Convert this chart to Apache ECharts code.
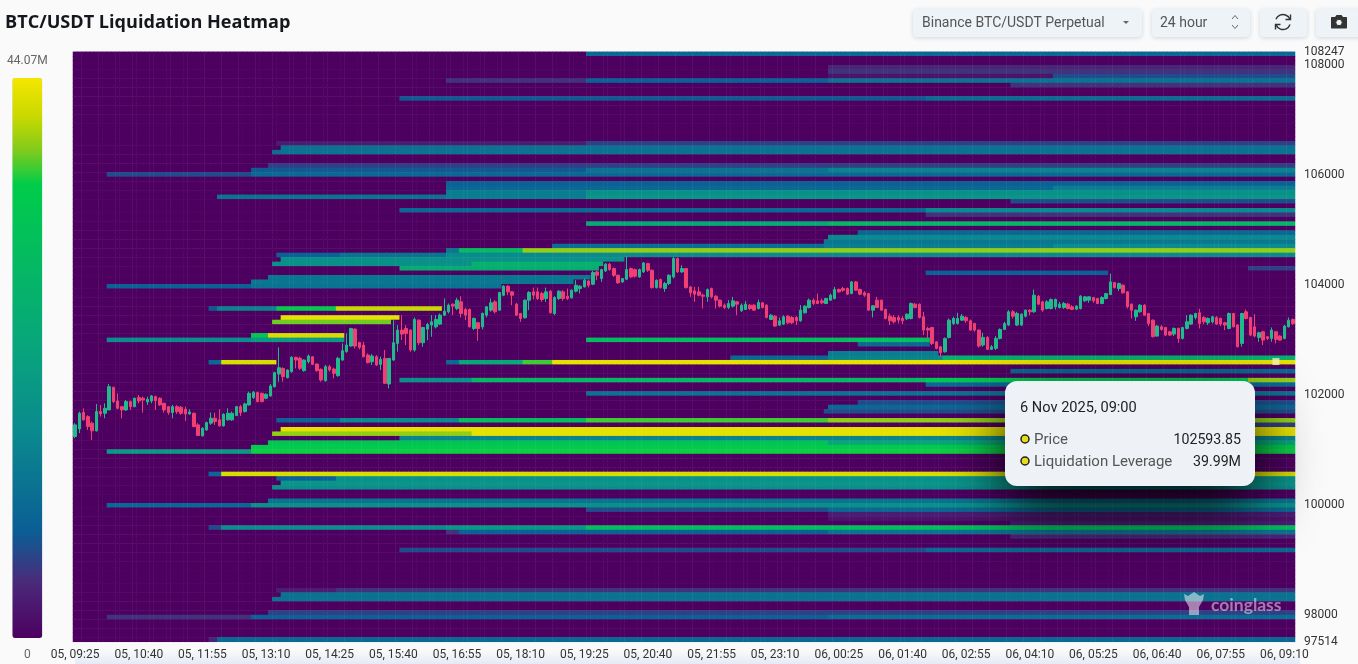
<!DOCTYPE html>
<html><head><meta charset="utf-8">
<style>html,body{margin:0;padding:0;background:#fafafa;overflow:hidden}
#strip{position:absolute;left:75px;top:650px;width:1225px;height:14px;background:linear-gradient(#fafafa,#e4ebf6)}
#c{position:absolute;left:0;top:0;width:1358px;height:664px}</style>
<script src="https://cdn.jsdelivr.net/npm/echarts@6/dist/echarts.min.js"></script>
</head><body><div id="strip"></div><div id="c"></div>
<script>
const priceMin = 97514, priceMax = 108247, binCount = 132, candleCount = 288;
const priceTicks = [97514, 98000, 100000, 102000, 104000, 106000, 108000, 108247];
const legendMaxM = 44.07;
const colorStops = [[0,'#4d0060'],[0.1,'#4a2a7a'],[0.19,'#0b5e95'],[0.37,'#0a8a8e'],[0.52,'#08a57c'],[0.81,'#00cc4a'],[0.87,'#80cb1c'],[0.93,'#c8d800'],[1,'#f5e600']];
const tipTime = '6 Nov 2025, 09:00', tipPrice = 102593.85, tipLeverage = '39.99M', tipCandle = 283;

// [price bin counted from the top, first candle, end candle, liquidation leverage in millions]
const bandsTop = [
[0,121,288,10],[3,178,288,4],[4,178,288,5],[5,178,231,2],[5,231,288,7],[6,88,121,5],[6,121,178,9],[6,178,288,12],[7,221,288,5],
[10,77,201,8],[10,201,288,11],[20,48,121,3],[20,121,288,6],[21,49,288,12],[22,47,49,11],[22,49,288,12],[25,46,288,6],
[26,42,121,8],[26,121,178,12],[26,178,288,15],[27,8,42,7],[27,42,288,10],[29,88,288,9],[30,88,231,10],[30,231,288,14],
[31,88,121,14],[31,121,288,18],[32,34,88,12],[32,88,121,14],[32,121,288,19],[33,221,288,7],
[35,77,201,10],[35,201,288,16],[36,201,288,5],[38,121,178,24],[38,178,288,28]];
const bandsUpperMid = [
[40,185,288,10],[41,178,288,16],[42,177,288,13],[43,113,177,11],[43,177,231,14],[43,231,288,17],
[44,88,91,13],[44,91,106,30],[44,106,288,39],[45,48,63,9],[45,63,88,12],[45,88,288,16],
[46,49,130,18],[47,47,94,18],[47,94,125,27],[48,77,124,25],[48,277,288,6],[49,201,244,9],
[50,46,122,13],[51,42,118,13],[52,8,42,9],[52,42,101,12],
[57,32,34,8],[57,34,48,15],[57,48,62,35],[57,62,87,41],[59,49,77,43],[60,47,75,38],
[63,42,46,34],[63,46,64,42],[64,8,42,17],[64,42,64,20],[64,121,185,30],[64,185,202,32],[65,185,202,10],
[67,178,204,14],[68,155,178,10],[68,178,205,15],[68,205,288,26]];
const bandsLowerMid = [
[69,32,35,10],[69,35,48,42],[69,88,91,10],[69,91,106,24],[69,106,113,37],[69,113,288,43],
[71,221,288,10],[73,77,94,18],[73,94,201,29],[73,201,277,34],[73,277,288,39],[74,201,288,10],[76,121,288,12],
[78,185,288,7],[79,178,288,10],[80,177,288,7],
[82,48,63,9],[82,63,91,16],[82,91,121,31],[82,121,178,37],[82,178,288,39],[83,221,288,6],
[84,49,288,43],[85,47,94,39],[85,94,288,43],[86,77,288,15],[87,46,178,33],[87,178,288,24],
[88,42,288,35],[89,8,42,20],[89,42,288,36]];
const bandsBottom = [
[94,32,35,10],[94,35,288,42],[95,48,62,9],[95,62,288,18],[96,49,288,19],[97,47,288,17],
[100,46,288,12],[101,8,42,10],[101,42,288,18],[102,121,178,7],[102,178,288,10],[103,178,288,3],[104,178,288,2],[105,221,288,3],
[106,32,35,7],[106,35,88,17],[106,88,121,20],[106,121,288,31],[107,88,91,5],[107,91,178,9],[107,178,288,12],[108,221,288,4],
[111,77,201,7],[111,201,288,10],[120,48,62,3],[120,62,288,5],[121,49,288,12],[122,47,288,12],[125,46,288,6],
[126,8,42,5],[126,42,178,9],[126,178,288,11],[131,32,34,4],[131,34,288,10]];

// [open, close, low, high], read candle by candle
const candlesA = [
[101230,101442,101200,101472],[101369,101653,101291,101684],[101666,101533,101520,101744],[101593,101411,101351,101617],[101472,101333,101169,101502],[101333,101684,101321,101823],[101684,101641,101593,101805],[101653,101744,101563,101835],
[101714,102137,101714,102186],[102125,101865,101835,102137],[101877,101744,101726,102016],[101774,101714,101563,101787],[101714,101865,101696,101895],[101865,101774,101714,101883],[101774,101926,101762,101938],[101938,101877,101835,101986],
[101926,101895,101666,101956],[101859,101908,101805,101956],[101877,101968,101835,101986],[101956,101883,101714,101974],[101926,101805,101787,101944],[101835,101714,101666,101847],[101774,101666,101623,101787],[101666,101774,101563,101805],
[101774,101684,101641,101799],[101762,101653,101623,101787],[101726,101641,101514,101774],[101641,101678,101623,101726],[101653,101411,101399,101666],[101442,101248,101242,101472],[101242,101381,101230,101399],[101351,101484,101333,101502],
[101472,101563,101442,101666],[101563,101502,101442,101666],[101533,101424,101411,101726],[101424,101635,101411,101653],[101533,101653,101520,101744],[101533,101653,101514,101684],[101611,101774,101605,101787],[101774,101666,101605,101805],
[101684,101823,101666,101847],[101805,102016,101793,102047],[101938,102035,101914,102059],[102029,101865,101853,102047],[102016,101865,101853,102029],[101926,101998,101908,102016],[101968,102150,101956,102186],[102137,102392,102119,102410],
[102367,102482,102228,102851],[102470,102319,102228,102488],[102301,102440,102289,102452],[102410,102670,102392,102694],[102670,102621,102470,102682],[102652,102470,102440,102682],[102428,102621,102410,102634],[102591,102694,102561,102724],
[102682,102543,102531,102694],[102549,102428,102410,102561],[102452,102258,102228,102470],[102246,102500,102228,102531],[102500,102440,102410,102531],[102458,102379,102289,102482],[102337,102652,102319,102682],[102621,102791,102609,102924],
[102773,102894,102755,103105],[102876,103196,102863,103208],[103184,102876,102833,103196],[102942,102851,102815,102954],[102894,102682,102670,102954],[102712,102573,102561,102742],[102591,102694,102531,102730],[102682,102531,102513,102712]];
const candlesB = [
[102543,102634,102440,102682],[102652,102198,102186,102803],[102186,102652,102107,102652],[102621,102936,102609,103347],[102924,103166,102773,103257],[103166,103093,102984,103438],[103196,103105,102894,103257],[103166,102803,102773,103178],
[102803,103360,102773,103396],[103347,102936,102894,103360],[102936,103214,102863,103226],[103184,103269,102984,103299],[103257,103317,103045,103438],[103226,103360,103196,103438],[103275,103438,103257,103468],[103438,103511,103420,103741],
[103499,103620,103468,103650],[103638,103602,103438,103650],[103559,103711,103529,103753],[103680,103468,103396,103783],[103541,103438,103347,103571],[103541,103226,103214,103559],[103196,103378,103166,103396],[103299,103196,102972,103317],
[103226,103468,103178,103487],[103438,103589,103396,103602],[103529,103662,103499,103741],[103680,103499,103468,103711],[103529,103850,103517,103862],[103801,103965,103783,103983],[103965,103862,103801,103983],[103862,103801,103620,103874],
[103638,103438,103420,103662],[103468,103378,103317,103480],[103390,103711,103378,103723],[103711,103850,103529,103874],[103862,103801,103723,103940],[103862,103741,103711,103940],[103831,103723,103680,103862],[103741,103862,103680,103940],
[103874,103480,103468,103892],[103468,103759,103438,103783],[103741,103874,103711,103892],[103862,103741,103698,103892],[103783,103741,103711,103922],[103753,103892,103741,103904],[103874,103983,103850,104074],[103922,103965,103831,103983],
[103952,104074,103940,104104],[104061,103983,103940,104074],[104001,104213,103983,104243],[104225,104164,104074,104243],[104104,104267,104043,104285],[104243,104364,104225,104388],[104364,104267,104243,104388],[104285,104164,104134,104303],
[104164,104025,104013,104176],[104043,104104,104025,104116],[104092,104267,104074,104509],[104285,104134,104116,104303],[104267,104146,104122,104285],[104134,104267,104116,104285],[104225,104388,104207,104406],[104376,104255,104225,104388],
[104255,103940,103922,104267],[103940,104074,103922,104086],[104086,103940,103922,104104],[103922,104013,103862,104043],[104013,104164,103983,104182],[104134,104467,104104,104497],[104467,104225,104207,104485],[104225,104285,104207,104346]];
const candlesC = [
[104285,103940,103922,104297],[103952,103844,103771,103965],[103880,103820,103680,103952],[103862,103801,103783,103952],[103801,103783,103559,103831],[103771,103904,103680,103922],[103922,103771,103741,103940],[103783,103711,103559,103801],
[103711,103602,103577,103723],[103620,103577,103547,103650],[103577,103650,103547,103711],[103602,103698,103577,103771],[103680,103638,103438,103698],[103517,103620,103499,103650],[103541,103638,103529,103698],[103620,103559,103529,103638],
[103620,103529,103517,103638],[103559,103668,103541,103723],[103662,103577,103559,103680],[103620,103396,103378,103638],[103360,103438,103347,103456],[103420,103239,103226,103438],[103257,103335,103239,103396],[103275,103408,103257,103438],
[103420,103299,103275,103438],[103396,103299,103275,103420],[103396,103335,103257,103420],[103335,103529,103317,103620],[103480,103602,103468,103620],[103577,103711,103559,103741],[103711,103650,103620,103741],[103698,103650,103638,103831],
[103698,103662,103638,103741],[103650,103741,103638,103753],[103711,103801,103698,103831],[103741,103904,103723,103952],[103904,103862,103844,103922],[103922,103892,103862,103952],[103922,103820,103801,103940],[103831,104043,103820,104061],
[104043,103892,103880,104061],[103904,103820,103801,103922],[103844,103801,103771,103874],[103831,103529,103517,103844],[103529,103608,103396,103620],[103711,103577,103577,103771],[103711,103529,103517,103723],[103541,103378,103360,103559],
[103420,103335,103257,103468],[103396,103317,103287,103438],[103396,103347,103287,103438],[103378,103335,103275,103420],[103372,103456,103347,103468],[103378,103650,103360,103668],[103638,103577,103559,103662],[103638,103396,103378,103650],
[103408,103166,103075,103499],[103196,103166,103015,103226],[103214,102924,102894,103226],[102954,102833,102815,102966],[102863,102755,102682,102875],[102773,103015,102755,103033],[103033,103347,103015,103378],[103287,103378,103257,103408],
[103287,103378,103269,103480],[103347,103420,103335,103456],[103396,103335,103299,103420],[103335,103166,103154,103360],[103287,103166,103136,103299],[103166,102876,102851,103178],[102894,103033,102863,103118],[103033,102815,102803,103057]];
const candlesD = [
[102815,102863,102803,102894],[102833,103015,102803,103057],[103015,103178,102997,103196],[103178,103287,103166,103317],[103257,103499,103239,103529],[103499,103420,103378,103529],[103257,103468,103239,103499],[103257,103456,103239,103468],
[103420,103529,103396,103541],[103529,103499,103438,103547],[103499,103801,103480,103904],[103783,103638,103620,103801],[103680,103529,103499,103698],[103559,103680,103541,103711],[103559,103723,103541,103741],[103589,103723,103541,103741],
[103577,103638,103559,103680],[103577,103650,103553,103680],[103638,103559,103541,103662],[103589,103541,103529,103620],[103547,103602,103529,103620],[103559,103783,103541,103801],[103698,103771,103680,103783],[103711,103771,103662,103783],
[103759,103698,103662,103771],[103741,103650,103638,103753],[103650,103759,103638,103783],[103741,103831,103723,103844],[103813,104043,103801,104194],[104031,103940,103922,104043],[103922,104013,103880,104031],[103983,103844,103831,104001],
[103862,103589,103559,103874],[103638,103529,103378,103650],[103408,103529,103335,103541],[103499,103620,103480,103638],[103620,103438,103420,103638],[103468,103287,103239,103480],[103347,103045,103033,103360],[103057,103239,103045,103257],
[103226,103178,103154,103257],[103214,103075,103057,103226],[103136,103075,103057,103154],[103093,103196,103057,103214],[103196,103015,102936,103214],[103015,103214,102997,103226],[103196,103317,103178,103438],[103275,103438,103257,103456],
[103396,103468,103360,103480],[103480,103287,103196,103553],[103396,103317,103275,103420],[103299,103378,103257,103396],[103317,103408,103287,103426],[103396,103275,103257,103420],[103378,103275,103239,103396],[103299,103257,103166,103317],
[103196,103468,103178,103487],[103468,103226,103214,103480],[103257,102863,102851,103275],[102924,103468,102863,103480],[103499,103378,103360,103541],[103396,103075,103057,103408],[103226,103057,103033,103456],[103033,103118,102954,103136],
[103136,102984,102894,103154],[103045,103015,102984,103057],[103015,103166,102954,103214],[103136,102997,102924,103154],[103057,102984,102972,103075],[103015,103239,102997,103257],[103226,103347,103214,103396],[103360,103287,103257,103378]];

// category labels: one per candle, five minutes apart
const timeLabels = [];
for (let i = 0; i < candleCount; i++) {
  const m = 9 * 60 + 25 + i * 5, day = m >= 1440 ? '06' : '05', t = m % 1440;
  timeLabels.push(day + ', ' + String(Math.floor(t / 60)).padStart(2, '0') + ':' + String(t % 60).padStart(2, '0'));
}
const binLabels = [];
for (let r = 0; r < binCount; r++) binLabels.push(String(r));

const cells = new Float32Array(binCount * candleCount);
[].concat(bandsTop, bandsUpperMid, bandsLowerMid, bandsBottom).forEach(function (b) {
  for (let i = b[1]; i < b[2]; i++) cells[b[0] * candleCount + i] = b[3];
});
const heatData = [];
for (let r = 0; r < binCount; r++) for (let i = 0; i < candleCount; i++)
  heatData.push([i, binCount - 1 - r, cells[r * candleCount + i]]);

function hex(c){return [1,3,5].map(function(k){return parseInt(c.substr(k,2),16);});}
const ramp = [];
for (let k = 0; k <= 100; k++) {
  const t = k / 100; let j = 0;
  while (j < colorStops.length - 2 && t > colorStops[j + 1][0]) j++;
  const a = colorStops[j], b = colorStops[j + 1], f = (t - a[0]) / (b[0] - a[0]);
  const ca = hex(a[1]), cb = hex(b[1]);
  ramp.push('rgb(' + ca.map(function (v, n) { return Math.round(v + (cb[n] - v) * f); }).join(',') + ')');
}

const ff = 'Roboto, sans-serif', btn = '#eef3f7', ink = '#555';
const btnStyle = {fill: btn, shadowBlur: 4, shadowColor: 'rgba(60,80,110,0.22)', shadowOffsetY: 1};
function button(x, w) { return {type: 'rect', shape: {x: x, y: 9, width: w, height: 28, r: 4}, style: btnStyle}; }
function label(x, y, text, size, fill, align, weight) {
  return {type: 'text', x: x, y: y, style: {text: text, font: (weight || 400) + ' ' + size + 'px ' + ff, fill: fill, align: align || 'left', verticalAlign: 'middle'}};
}
function stroke(points) { return {type: 'polyline', shape: {points: points}, style: {stroke: '#333', fill: null, lineWidth: 1.4}}; }
function arc(cx, cy, r, a0, a1) { return {type: 'arc', shape: {cx: cx, cy: cy, r: r, startAngle: a0, endAngle: a1, clockwise: true}, style: {stroke: '#333', fill: null, lineWidth: 1.4}}; }
const chart = echarts.init(document.getElementById('c'), null, {renderer: 'canvas'});
chart.setOption({
  animation: false,
  backgroundColor: 'transparent',
  title: {text: 'BTC/USDT Liquidation Heatmap', left: 0, top: 9, textStyle: {fontFamily: '"Open Sans"', fontWeight: 700, fontSize: 18.1, color: '#14171c'}},
  grid: [
    {left: 73, top: 51.8, width: 1222, height: 590, show: false},
    {left: 73, top: 50.8, width: 1222, height: 590, show: false}
  ],
  xAxis: [
    {gridIndex: 0, type: 'category', data: timeLabels, boundaryGap: true,
      axisLine: {show: false}, axisTick: {show: false}, splitLine: {show: false},
      axisLabel: {interval: function (i) { return i % 15 === 0; }, margin: 7, fontFamily: ff, fontSize: 12, color: '#333', hideOverlap: false}},
    {gridIndex: 1, type: 'category', data: timeLabels, boundaryGap: true, show: false}
  ],
  yAxis: [
    {gridIndex: 0, type: 'category', data: binLabels, boundaryGap: true, show: false},
    {gridIndex: 0, type: 'value', position: 'right', min: priceMin, max: priceMax, splitLine: {show: false},
      axisLine: {show: false}, axisTick: {show: false},
      axisLabel: {customValues: priceTicks, margin: 9, fontFamily: ff, fontSize: 12, color: '#333', formatter: function (v) { return String(v); }}},
    {gridIndex: 1, type: 'value', min: priceMin, max: priceMax, show: false, splitLine: {show: false}}
  ],
  visualMap: {type: 'continuous', seriesIndex: 0, dimension: 2, min: 0, max: legendMaxM, calculable: false, realtime: false,
    left: -8, top: 40, itemWidth: 30, itemHeight: 560, text: ['44.07M', '0'], textGap: 11,
    textStyle: {fontFamily: ff, fontSize: 12, color: '#666'}, inRange: {color: ramp}},
  series: [
    {type: 'heatmap', xAxisIndex: 0, yAxisIndex: 0, data: heatData, progressive: 0, silent: true, z: 1, emphasis: {disabled: true}},
    {type: 'candlestick', xAxisIndex: 1, yAxisIndex: 2, data: [].concat(candlesA, candlesB, candlesC, candlesD), barWidth: 3, progressive: 0, silent: true, z: 3,
      itemStyle: {color: '#1fbb8c', color0: '#f03f73', borderColor: '#1fbb8c', borderColor0: '#f03f73', borderWidth: 1}},
    {type: 'scatter', xAxisIndex: 1, yAxisIndex: 2, data: [[tipCandle, tipPrice]], symbol: 'rect', symbolSize: 7, silent: true, z: 4, itemStyle: {color: '#f5f3b8'}}
  ],
  graphic: {elements: [
    button(913, 229), label(922, 23, 'Binance BTC/USDT Perpetual', 14, ink),
    {type: 'polygon', shape: {points: [[1123, 21], [1129, 21], [1126, 24]]}, style: {fill: '#666'}},
    button(1152, 98), label(1160, 23, '24 hour', 14, ink),
    {type: 'polyline', shape: {points: [[1232, 19], [1235, 15.5], [1238, 19]]}, style: {stroke: '#666', fill: null, lineWidth: 1}},
    {type: 'polyline', shape: {points: [[1232, 25], [1235, 28.5], [1238, 25]]}, style: {stroke: '#666', fill: null, lineWidth: 1}},
    button(1260, 47),
    arc(1283, 22, 7.5, 3.5, 5.9), stroke([[1290.5, 14.5], [1290.5, 19.5], [1285.5, 19.5]]),
    arc(1283, 22, 7.5, 0.35, 2.75), stroke([[1275.5, 29.5], [1275.5, 24.5], [1280.5, 24.5]]),
    button(1316, 60),
    {type: 'polygon', shape: {points: [[1336.5, 15], [1341.5, 15], [1343, 17], [1346.5, 17], [1347, 17.5], [1347, 28], [1346.5, 28.5], [1331.5, 28.5], [1331, 28], [1331, 17.5], [1331.5, 17], [1335, 17]]}, style: {fill: '#333'}},
    {type: 'circle', shape: {cx: 1339, cy: 22.5, r: 3.2}, style: {fill: btn, stroke: '#333', lineWidth: 1}},
    {type: 'polygon', z: 20, shape: {points: [[1184, 594], [1188, 596], [1194, 592], [1200, 596], [1204, 594], [1203, 600], [1199, 607], [1199, 615], [1189, 615], [1189, 607], [1185, 600]]}, style: {fill: 'rgba(255,255,255,0.5)'}},
    {type: 'text', x: 1211, y: 605, z: 20, style: {text: 'coinglass', font: '700 17.5px Lato, sans-serif', fill: 'rgba(255,255,255,0.48)', verticalAlign: 'middle'}},
    {type: 'rect', z: 30, shape: {x: 1005, y: 381, width: 250, height: 105, r: 12}, style: {fill: '#eef2f6', shadowBlur: 60, shadowOffsetY: 24, shadowColor: 'rgba(0,0,0,0.9)'}},
    Object.assign(label(1020, 408, tipTime, 14.6, '#222'), {z: 31}),
    {type: 'circle', z: 31, shape: {cx: 1025, cy: 439, r: 4}, style: {fill: '#e6dc1e', stroke: '#222', lineWidth: 1.5}},
    Object.assign(label(1034, 440, 'Price', 15, ink), {z: 31}),
    Object.assign(label(1241, 440, String(tipPrice), 14.2, '#222', 'right'), {z: 31}),
    {type: 'circle', z: 31, shape: {cx: 1025, cy: 461, r: 4}, style: {fill: '#e6dc1e', stroke: '#222', lineWidth: 1.5}},
    Object.assign(label(1034, 462, 'Liquidation Leverage', 15, ink), {z: 31}),
    Object.assign(label(1241, 462, tipLeverage, 14.2, '#222', 'right'), {z: 31})
  ]}
});
</script></body></html>
